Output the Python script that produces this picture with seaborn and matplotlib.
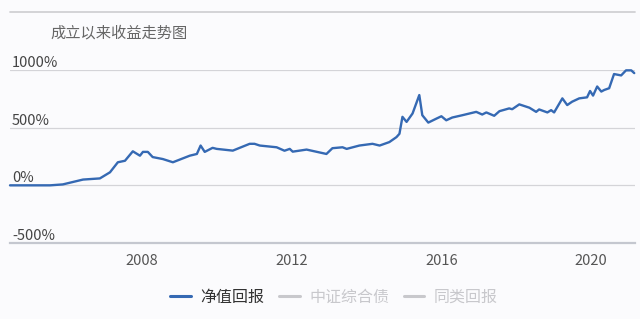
import matplotlib
matplotlib.use("Agg")
import matplotlib.pyplot as plt
from matplotlib.lines import Line2D
import seaborn as sns
import pandas as pd

# ---- data ----
years = [2004.48, 2005.55, 2005.89, 2006.43, 2006.88, 2007.15, 2007.36, 2007.55, 2007.76, 2007.95,
         2008.03, 2008.16, 2008.29, 2008.56, 2008.83, 2009.28, 2009.47, 2009.57, 2009.68, 2009.89,
         2010.00, 2010.43, 2010.88, 2011.01, 2011.15, 2011.60, 2011.81, 2011.95, 2012.03, 2012.40,
         2012.93, 2013.09, 2013.36, 2013.47, 2013.81, 2014.16, 2014.35, 2014.61, 2014.80, 2014.88,
         2014.96, 2015.07, 2015.23, 2015.41, 2015.49, 2015.65, 2015.87, 2016.00, 2016.13, 2016.29,
         2016.56, 2016.93, 2017.09, 2017.20, 2017.41, 2017.55, 2017.81, 2017.89, 2018.08, 2018.35,
         2018.53, 2018.61, 2018.83, 2018.93, 2019.01, 2019.23, 2019.36, 2019.49, 2019.68, 2019.89,
         2019.97, 2020.05, 2020.16, 2020.27, 2020.35, 2020.48, 2020.61, 2020.80, 2020.93, 2021.07,
         2021.15]
net_return = [0, 0, 8, 50, 60, 113, 200, 213, 295, 257,
              290, 290, 245, 228, 200, 257, 272, 345, 290, 325,
              316, 301, 360, 360, 345, 330, 300, 316, 292, 310,
              272, 322, 330, 316, 345, 360, 345, 375, 418, 447,
              594, 550, 623, 783, 608, 544, 579, 599, 564, 588,
              608, 637, 614, 632, 603, 643, 667, 660, 702, 673,
              637, 658, 632, 652, 632, 754, 696, 725, 754, 763,
              818, 778, 857, 813, 827, 842, 965, 953, 997, 997,
              973]
y_ticks = [-500, 0, 500, 1000]
y_tick_labels = ["-500%", "0%", "500%", "1000%"]
x_ticks = [2008, 2012, 2016, 2020]
x_tick_labels = ["2008", "2012", "2016", "2020"]
series_names = ["净值回报", "中证综合债", "同类回报"]
title = "成立以来收益走势图"

# ---- style ----
sns.set_style("white")
plt.rcParams["font.family"] = ["Noto Sans CJK SC", "DejaVu Sans"]
plt.rcParams["axes.unicode_minus"] = False

BG = "#fbfbfd"
BLUE = "#3569b3"
GRID = "#d4d4d8"
LIGHT = "#c8c8cc"

fig = plt.figure(figsize=(6.4, 3.19), dpi=100, facecolor=BG)
ax = fig.add_axes([10 / 640, 1 - 243 / 319, 625 / 640, 173 / 319])
ax.set_facecolor(BG)

df = pd.DataFrame({"year": years, "value": net_return})
sns.lineplot(data=df, x="year", y="value", ax=ax, color=BLUE, linewidth=1.7,
             legend=False, clip_on=False, zorder=5)

ax.set_xlim(2004.48, 2021.17)
ax.set_ylim(-500, 1000)
ax.set_xlabel("")
ax.set_ylabel("")

ax.set_yticks(y_ticks)
ax.set_yticklabels(y_tick_labels)
ax.set_xticks(x_ticks)
ax.set_xticklabels(x_tick_labels)

ax.grid(axis="y", color=GRID, linewidth=0.9)
ax.grid(axis="x", visible=False)
for s in ["top", "left", "right"]:
    ax.spines[s].set_visible(False)
ax.spines["bottom"].set_color("#c4c7cf")
ax.spines["bottom"].set_linewidth(1.6)
ax.spines["bottom"].set_zorder(3)

ax.tick_params(axis="y", length=0, pad=-1.5, labelsize=10.5, labelcolor="#444444")
for lbl in ax.get_yticklabels():
    lbl.set_horizontalalignment("left")
    lbl.set_verticalalignment("bottom")
ax.tick_params(axis="x", length=3, width=0.8, color=LIGHT, pad=5,
               labelsize=10.5, labelcolor="#555555")

# top separator line
fig.add_artist(Line2D([10 / 640, 635 / 640], [1 - 12 / 319, 1 - 12 / 319],
                      transform=fig.transFigure, color="#d0d0d4", linewidth=1.3))

fig.text(50 / 640, 1 - 33 / 319, title, ha="left", va="center",
         fontsize=11, color="#666666")

handles = [Line2D([], [], color=BLUE, linewidth=2.2),
           Line2D([], [], color=LIGHT, linewidth=2.2),
           Line2D([], [], color=LIGHT, linewidth=2.2)]
leg = fig.legend(handles, series_names, loc="center", bbox_to_anchor=(334 / 640, 1 - 297 / 319),
                 ncol=3, frameon=False, fontsize=11.5, handlelength=1.3,
                 handletextpad=0.6, columnspacing=0.9)
for t, c in zip(leg.get_texts(), ["#333333", LIGHT, LIGHT]):
    t.set_color(c)

fig.savefig("out.png", dpi=100, facecolor=BG)
